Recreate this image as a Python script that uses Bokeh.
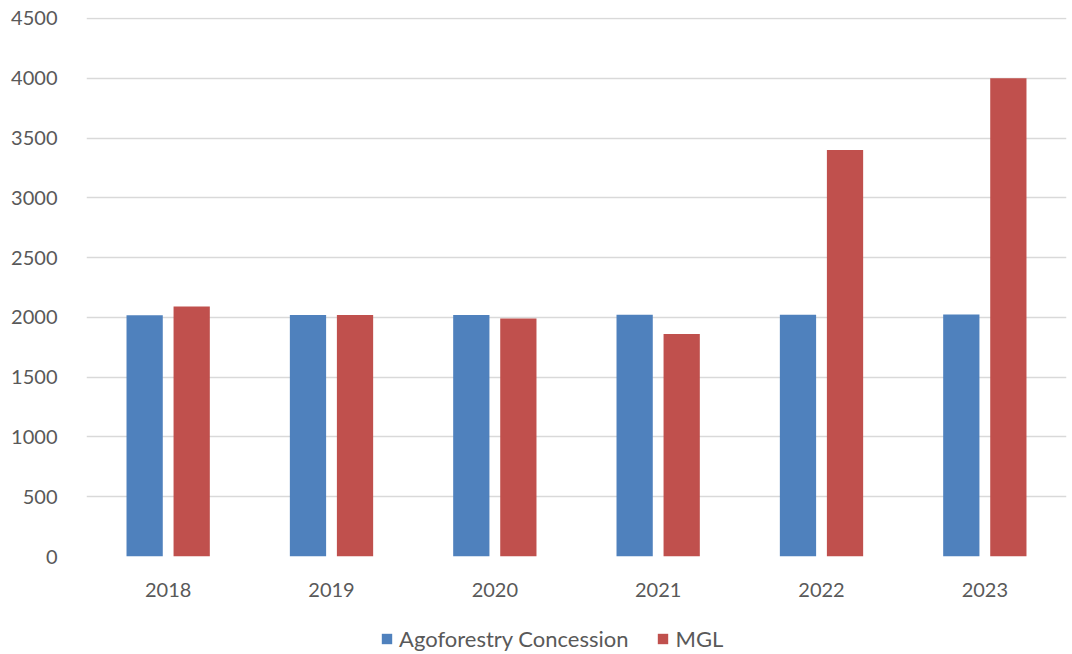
from bokeh.plotting import figure
from bokeh.models import ColumnDataSource, Legend, LegendItem, Range1d, FixedTicker
from bokeh.layouts import column
from bokeh.transform import dodge
from bokeh.embed import file_html
from bokeh.resources import INLINE

years = ["2018", "2019", "2020", "2021", "2022", "2023"]
agoforestry = [2018, 2019, 2020, 2021, 2022, 2023]
mgl = [2090, 2020, 1990, 1860, 3400, 4000]
y_ticks = [0, 500, 1000, 1500, 2000, 2500, 3000, 3500, 4000, 4500]
series_names = ["Agoforestry Concession", "MGL"]
colors = ["#4f81bd", "#c0504d"]

src = ColumnDataSource(data=dict(year=years, ago=agoforestry, mgl=mgl))

FONT = "Lato"
TXT = "#595959"
FS = "20px"

p = figure(x_range=years, y_range=Range1d(0, 4508), width=1072, height=610,
           output_backend="svg", toolbar_location=None,
           min_border_left=86, min_border_right=6, min_border_top=17, min_border_bottom=54)
p.outline_line_color = None

p.vbar(x=dodge("year", -0.144, range=p.x_range), top="ago", width=0.222, source=src,
       fill_color=colors[0], line_color=None)
p.vbar(x=dodge("year", 0.144, range=p.x_range), top="mgl", width=0.222, source=src,
       fill_color=colors[1], line_color=None)

p.xgrid.grid_line_color = None
p.ygrid.grid_line_color = "#d9d9d9"
p.ygrid.grid_line_width = 1.3
p.yaxis.ticker = FixedTicker(ticks=y_ticks)

for ax in (p.xaxis[0], p.yaxis[0]):
    ax.axis_line_color = None
    ax.major_tick_line_color = None
    ax.minor_tick_line_color = None
    ax.major_label_text_font = FONT
    ax.major_label_text_font_size = FS
    ax.major_label_text_color = TXT
p.xaxis.major_label_standoff = 20
p.yaxis.major_label_standoff = 23

# legend strip below the chart (zero-height proxy bars only carry the legend swatches)
lg = figure(width=1072, height=44, output_backend="svg", toolbar_location=None,
            x_axis_location=None, y_axis_location=None, min_border=0,
            x_range=Range1d(0, 1), y_range=Range1d(0, 1))
lg.outline_line_color = None
lg.grid.visible = False
items = []
for name, c in zip(series_names, colors):
    r = lg.vbar(x=[0.5], top=[0], bottom=[0], width=0.0, fill_color=c, line_color=None)
    items.append(LegendItem(label=name, renderers=[r]))
legend = Legend(items=items, orientation="horizontal", location=(294, 2),
                label_text_font=FONT, label_text_font_size="22px", label_text_color=TXT,
                glyph_width=13, glyph_height=13, spacing=28, label_standoff=6,
                border_line_color=None, background_fill_alpha=0, margin=0, padding=0)
lg.add_layout(legend, "center")

layout = column(p, lg, spacing=0)
open("out.html", "w").write(file_html(layout, INLINE))
